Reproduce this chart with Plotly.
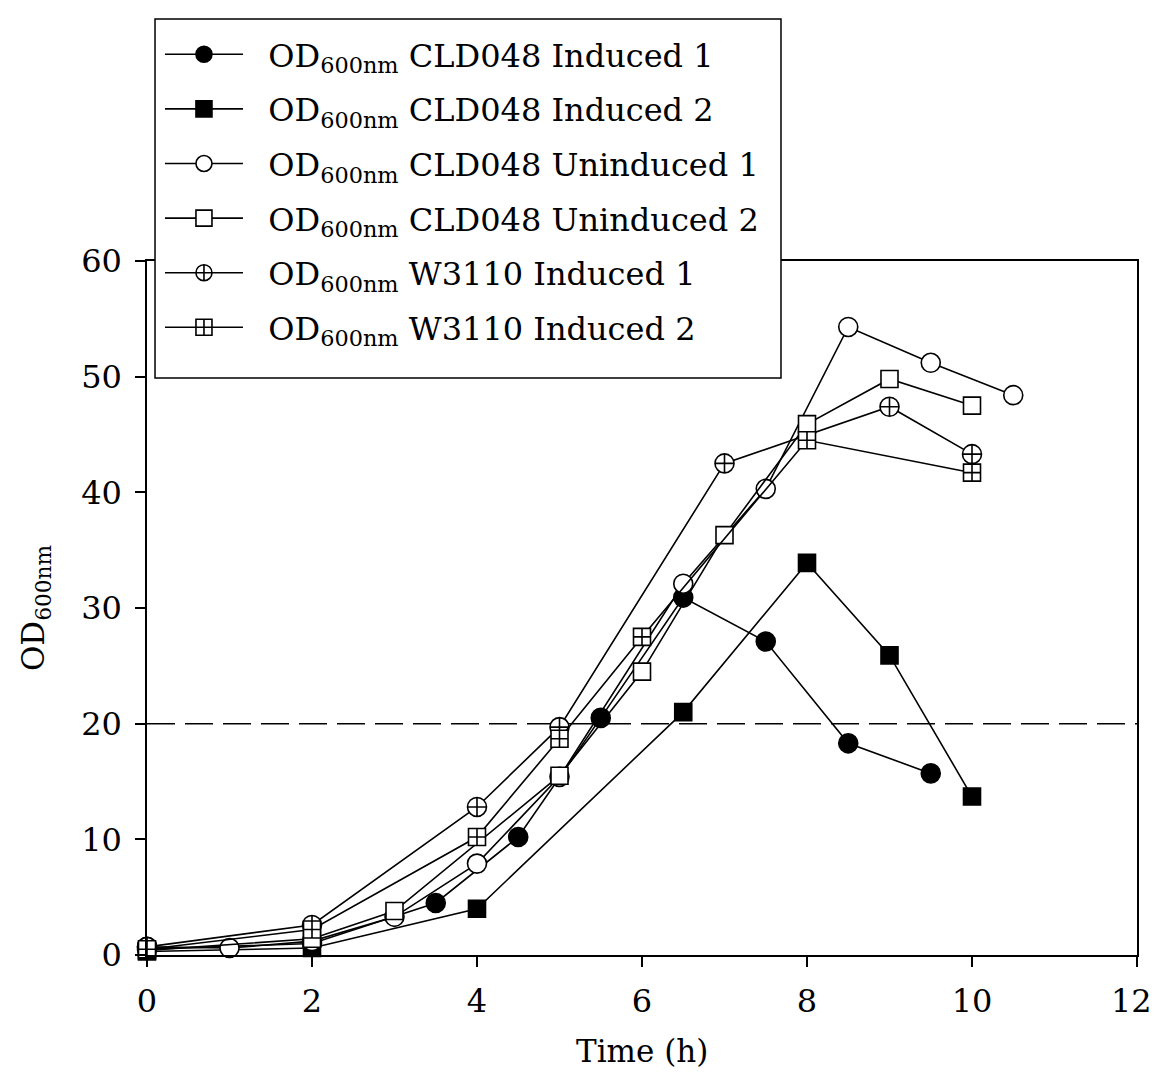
import plotly.graph_objects as go

# ---- data ----
ind1_t = [0, 2, 3.5, 4.5, 5.5, 6.5, 7.5, 8.5, 9.5]
ind1_od = [0.5, 1.0, 4.5, 10.2, 20.5, 30.9, 27.1, 18.3, 15.7]

ind2_t = [0, 2, 4, 6.5, 8, 9, 10]
ind2_od = [0.3, 0.6, 4.0, 21.0, 33.9, 25.9, 13.7]

unind1_t = [0, 1, 2, 3, 4, 5, 6.5, 7.5, 8.5, 9.5, 10.5]
unind1_od = [0.7, 0.6, 1.2, 3.3, 7.9, 15.4, 32.1, 40.3, 54.3, 51.2, 48.4]

unind2_t = [0, 2, 3, 5, 6, 7, 8, 9, 10]
unind2_od = [0.4, 1.4, 3.8, 15.5, 24.5, 36.3, 45.9, 49.8, 47.5]

w1_t = [0, 2, 4, 5, 7, 9, 10]
w1_od = [0.7, 2.6, 12.8, 19.7, 42.5, 47.4, 43.3]

w2_t = [0, 2, 4, 5, 6, 8, 10]
w2_od = [0.5, 2.2, 10.2, 18.7, 27.5, 44.5, 41.7]

threshold = 20

x_ticks = [0, 2, 4, 6, 8, 10, 12]
x_ticktext = ["0", "2", "4", "6", "8", "10", ""]   # "12" drawn as annotation so it is not hidden at the div edge
y_ticks = [0, 10, 20, 30, 40, 50, 60]

FONT = "DejaVu Serif"
SP = "\u00a0\u00a0"

series = [
    ("OD<sub>600nm</sub> CLD048 Induced 1", ind1_t, ind1_od, "circle", "black", 19),
    ("OD<sub>600nm</sub> CLD048 Induced 2", ind2_t, ind2_od, "square", "black", 17),
    ("OD<sub>600nm</sub> CLD048 Uninduced 1", unind1_t, unind1_od, "circle", "white", 19),
    ("OD<sub>600nm</sub> CLD048 Uninduced 2", unind2_t, unind2_od, "square", "white", 17),
    ("OD<sub>600nm</sub> W3110 Induced 1", w1_t, w1_od, "circle-cross", "white", 19),
    ("OD<sub>600nm</sub> W3110 Induced 2", w2_t, w2_od, "square-cross", "white", 17),
]

fig = go.Figure()
for i, (name, t, od, sym, fill, size) in enumerate(series):
    fig.add_trace(go.Scatter(
        x=t, y=od, name=SP + name, mode="lines+markers",
        legendgroup=f"g{i}",
        line=dict(color="black", width=1.6),
        marker=dict(symbol=sym, size=size, color=fill,
                    line=dict(color="black", width=1.6)),
        cliponaxis=False,
    ))

fig.add_shape(type="line", xref="paper", x0=0, x1=1, yref="y", y0=threshold, y1=threshold,
              line=dict(color="black", width=1.5, dash="28px,10px"), layer="below")

# legend frame (white box that hides the top of the plot frame, as in the reference)
fig.add_shape(type="rect", xref="paper", yref="paper", x0=0.0081, x1=0.6404, y0=0.8314, y1=1.3487,
              line=dict(color="black", width=1.5), fillcolor="white", layer="above")

fig.add_annotation(x=x_ticks[-1], xref="x", y=0, yref="paper", text="12",
                   showarrow=False, xanchor="center", yanchor="top", xshift=-6, yshift=-25,
                   font=dict(family=FONT, size=32, color="black"))

# x-axis title as an annotation (an axis title would push the bottom margin)
fig.add_annotation(x=0.5, xref="paper", y=0, yref="paper", text="Time (h)",
                   showarrow=False, xanchor="center", yanchor="middle", yshift=-96,
                   font=dict(family=FONT, size=31, color="black"))

axis_common = dict(
    showgrid=False, zeroline=False, showline=True, linecolor="black", linewidth=1.5,
    mirror=True, ticks="outside", ticklen=10, tickwidth=1.5, tickcolor="black",
    tickfont=dict(family=FONT, size=32, color="black"),
)

fig.update_layout(
    width=1144, height=1060,
    margin=dict(l=139, r=15, t=253, b=113),
    paper_bgcolor="white", plot_bgcolor="white",
    font=dict(family=FONT, color="black"),
    xaxis=dict(range=[0, 12], tickvals=x_ticks, ticktext=x_ticktext, ticklabelstandoff=7,
               **axis_common),
    yaxis=dict(range=[0, 60], tickvals=y_ticks, ticklabelstandoff=7,
               title=dict(text="OD<sub>600nm</sub>", font=dict(family=FONT, size=31), standoff=27),
               **axis_common),
    legend=dict(x=0.0131, y=1.3372, xanchor="left", yanchor="top",
                bgcolor="rgba(0,0,0,0)", borderwidth=0,
                font=dict(family=FONT, size=32, color="black"),
                itemsizing="trace", itemwidth=78, tracegroupgap=10),
    showlegend=True,
)

fig.write_html("out.html", config={"displayModeBar": False})
